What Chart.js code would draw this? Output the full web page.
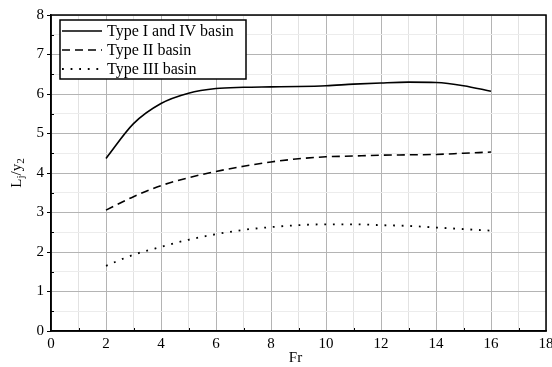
<!DOCTYPE html>
<html lang="en">
<head>
<meta charset="UTF-8">
<title>Lj/y2 vs Fr</title>
<script src="https://cdn.jsdelivr.net/npm/chart.js"></script>
<style>
  html, body { margin: 0; padding: 0; background: #fff; }
  #wrap { width: 552px; height: 367px; }
</style>
</head>
<body>
<div id="wrap"><canvas id="chart" width="552" height="367"></canvas></div>
<script>
// Froude numbers and the three basin curves
var fr = [2, 3, 4, 5, 6, 7, 8, 9, 10, 11, 12, 13, 14, 15, 16];
var typeIandIV = [4.37, 5.25, 5.76, 6.02, 6.14, 6.17, 6.18, 6.19, 6.21, 6.25, 6.28, 6.30, 6.29, 6.21, 6.07];
var typeII = [3.06, 3.40, 3.68, 3.88, 4.04, 4.17, 4.28, 4.36, 4.41, 4.43, 4.45, 4.46, 4.47, 4.50, 4.53];
var typeIII = [1.65, 1.93, 2.13, 2.31, 2.45, 2.56, 2.63, 2.68, 2.70, 2.70, 2.68, 2.66, 2.62, 2.58, 2.54];
var seriesNames = ['Type I and IV basin', 'Type II basin', 'Type III basin'];

var FONT = '"Liberation Serif", "Times New Roman", serif';

function pts(ys) {
    return fr.map(function (x, i) { return { x: x, y: ys[i] }; });
}

// frame, minor ticks, legend box and axis titles
var decorations = {
    id: 'decorations',
    afterDraw: function (chart) {
        var ctx = chart.ctx, a = chart.chartArea;
        var xs = chart.scales.x, ys = chart.scales.y;
        ctx.save();
        ctx.strokeStyle = '#000';
        ctx.lineWidth = 1.5;
        ctx.strokeRect(a.left, a.top, a.right - a.left, a.bottom - a.top);

        // small inward minor ticks
        ctx.lineWidth = 1;
        ctx.beginPath();
        for (var v = 1; v < 18; v += 2) {
            var px = Math.round(xs.getPixelForValue(v)) + 0.5;
            ctx.moveTo(px, a.bottom);
            ctx.lineTo(px, a.bottom - 3);
        }
        for (var w = 0.5; w < 8; w += 1) {
            var py = Math.round(ys.getPixelForValue(w)) + 0.5;
            ctx.moveTo(a.left, py);
            ctx.lineTo(a.left + 3, py);
        }
        ctx.stroke();

        // legend
        var lx = 60, ly = 20, lw = 186, lh = 59;
        ctx.fillStyle = '#fff';
        ctx.fillRect(lx, ly, lw, lh);
        ctx.lineWidth = 1.5;
        ctx.strokeRect(lx, ly, lw, lh);
        chart.data.datasets.forEach(function (ds, i) {
            var y = ly + 11 + i * 19;
            ctx.beginPath();
            ctx.setLineDash(ds.borderDash || []);
            ctx.lineWidth = ds.borderWidth;
            ctx.moveTo(lx + 2, y);
            ctx.lineTo(lx + 42, y);
            ctx.stroke();
            ctx.setLineDash([]);
            ctx.fillStyle = '#000';
            ctx.font = '16px ' + FONT;
            ctx.textBaseline = 'middle';
            ctx.textAlign = 'left';
            ctx.fillText(ds.label, lx + 47, y + 1);
        });

        // x title
        ctx.fillStyle = '#000';
        ctx.font = '15px ' + FONT;
        ctx.textAlign = 'center';
        ctx.textBaseline = 'middle';
        ctx.fillText('Fr', (a.left + a.right) / 2 - 3, 358);

        // y title with subscripts
        ctx.translate(17, (a.top + a.bottom) / 2);
        ctx.rotate(-Math.PI / 2);
        var parts = [['L', 0, 15], ['j', 4, 11], ['/y', 0, 15], ['2', 4, 11]];
        var total = 0;
        parts.forEach(function (p) { ctx.font = p[2] + 'px ' + FONT; total += ctx.measureText(p[0]).width; });
        var x = -total / 2;
        ctx.textAlign = 'left';
        parts.forEach(function (p) {
            ctx.font = p[2] + 'px ' + FONT;
            ctx.fillText(p[0], x, p[1]);
            x += ctx.measureText(p[0]).width;
        });
        ctx.restore();
    }
};

var ctx = document.getElementById('chart').getContext('2d');
var chart = new Chart(ctx, {
    type: 'line',
    data: {
        datasets: [{
            label: seriesNames[0],
            data: pts(typeIandIV),
            borderColor: '#000',
            borderWidth: 1.6,
            pointRadius: 0,
            cubicInterpolationMode: 'monotone'
        }, {
            label: seriesNames[1],
            data: pts(typeII),
            borderColor: '#000',
            borderWidth: 1.6,
            borderDash: [8, 5],
            pointRadius: 0,
            cubicInterpolationMode: 'monotone'
        }, {
            label: seriesNames[2],
            data: pts(typeIII),
            borderColor: '#000',
            borderWidth: 1.8,
            borderDash: [1.8, 6.8],
            pointRadius: 0,
            cubicInterpolationMode: 'monotone'
        }]
    },
    options: {
        responsive: false,
        animation: false,
        layout: { padding: { top: 15, right: 6, left: 0, bottom: 0 } },
        plugins: { legend: { display: false }, tooltip: { enabled: false } },
        scales: {
            x: {
                type: 'linear',
                min: 0, max: 18,
                ticks: {
                    stepSize: 1,
                    autoSkip: false,
                    maxRotation: 0,
                    padding: 4,
                    color: '#000',
                    font: { family: FONT, size: 15 },
                    callback: function (v) { return v % 2 === 0 ? v : ''; }
                },
                grid: {
                    drawTicks: false,
                    color: function (c) { return c.tick && c.tick.value % 2 === 0 ? '#b4b4b4' : '#e2e2e2'; },
                    lineWidth: 1
                },
                border: { color: '#000', width: 1.5 },
                afterFit: function (s) { s.height = 36; s.paddingLeft = 0; s.paddingRight = 0; }
            },
            y: {
                min: 0, max: 8,
                ticks: {
                    stepSize: 0.5,
                    autoSkip: false,
                    padding: 3,
                    color: '#000',
                    font: { family: FONT, size: 15 },
                    callback: function (v) { return Number.isInteger(v) ? v : ''; }
                },
                grid: {
                    tickLength: 4,
                    color: function (c) { return c.tick && Number.isInteger(c.tick.value) ? '#b4b4b4' : '#ececec'; },
                    tickColor: function (c) { return c.tick && Number.isInteger(c.tick.value) ? '#000' : 'rgba(0,0,0,0)'; },
                    lineWidth: 1
                },
                border: { color: '#000', width: 1.5 },
                afterFit: function (s) { s.width = 51; s.paddingTop = 0; s.paddingBottom = 0; }
            }
        }
    },
    plugins: [decorations]
});
</script>
</body>
</html>
